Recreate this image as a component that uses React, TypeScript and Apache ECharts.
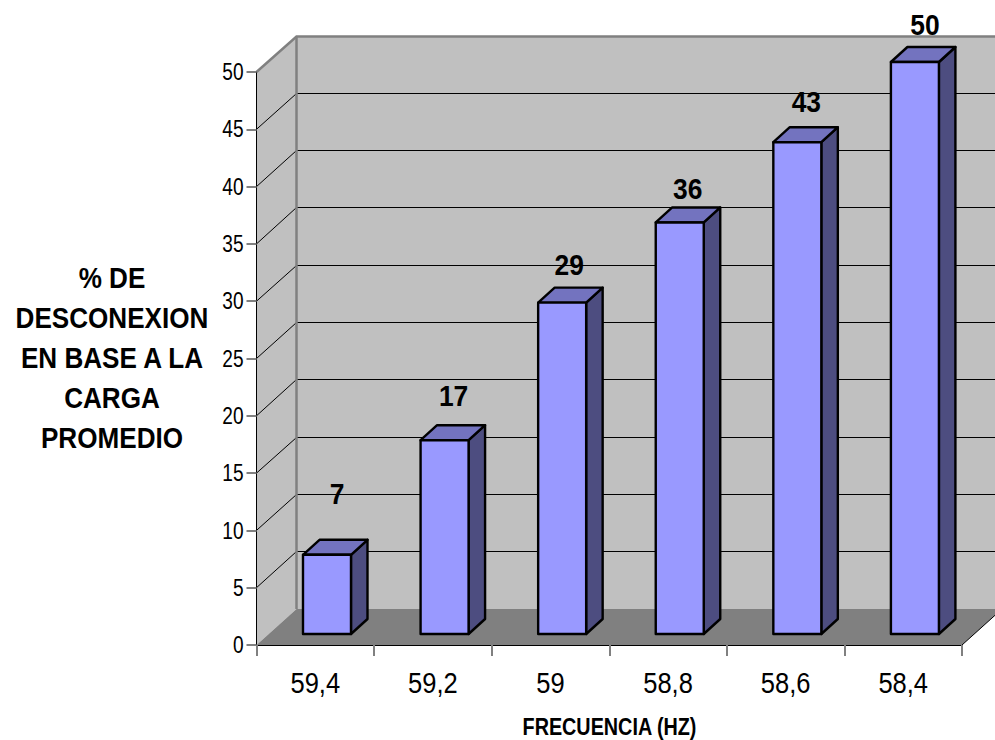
import React, { useEffect, useRef } from "react";
import * as echarts from "echarts";

const frequencies = ["59,4", "59,2", "59", "58,8", "58,6", "58,4"];
const disconnection = [7, 17, 29, 36, 43, 50];
const yTicks = [0, 5, 10, 15, 20, 25, 30, 35, 40, 45, 50];
const yTitleLines = ["% DE", "DESCONEXION", "EN BASE A LA", "CARGA", "PROMEDIO"];
const xTitle = "FRECUENCIA (HZ)";

const FONT = "'Liberation Sans', Arial, sans-serif";
const DEPTH_X = 40;
const DEPTH_Y = -36;
const labelLift = [61, 45, 38, 34, 41, 38];
const labelShift = [10, 9, 7, 8, 9, 10];

const crisp = (v: number) => Math.round(v - 0.5) + 0.5;

function scaledText(text: string, x: number, y: number, font: string, scaleX: number, align = "center") {
  return {
    type: "text",
    x,
    y,
    scaleX,
    style: { text, x: 0, y: 0, fill: "#000", font, align, verticalAlign: "middle" },
  };
}

function renderBackdrop(_: any, api: any) {
  const band = api.size([1, 0])[0];
  const [c0, y0] = api.coord([0, 0]);
  const [c5] = api.coord([frequencies.length - 1, 0]);
  const yTop = api.coord([0, 50])[1];
  const left = c0 - band / 2;
  const right = c5 + band / 2;
  const backLeft = left + DEPTH_X;
  const backRight = right + DEPTH_X;
  const children: any[] = [
    {
      type: "polygon",
      shape: { points: [[left, yTop], [backLeft, yTop + DEPTH_Y], [backLeft, y0 + DEPTH_Y], [left, y0]] },
      style: { fill: "#c0c0c0" },
    },
    {
      type: "rect",
      shape: { x: backLeft, y: yTop + DEPTH_Y, width: backRight - backLeft, height: y0 - yTop },
      style: { fill: "#c0c0c0" },
    },
    {
      type: "polygon",
      shape: { points: [[left, y0], [backLeft, y0 + DEPTH_Y], [backRight, y0 + DEPTH_Y], [right, y0]] },
      style: { fill: "#808080" },
    },
  ];
  yTicks.slice(1, -1).forEach((t) => {
    const y = api.coord([0, t])[1];
    const yb = crisp(y + DEPTH_Y);
    children.push({
      type: "polyline",
      shape: { points: [[left, y], [backLeft, yb], [backRight, yb]] },
      style: { stroke: "#000", lineWidth: 1, fill: "none" },
    });
  });
  children.push({
    type: "polyline",
    shape: { points: [[left, yTop], [backLeft, yTop + DEPTH_Y + 0.5], [backRight, yTop + DEPTH_Y + 0.5]] },
    style: { stroke: "#808080", lineWidth: 2.5, fill: "none" },
  });
  children.push({
    type: "line",
    shape: { x1: backLeft, y1: yTop + DEPTH_Y, x2: backLeft, y2: y0 + DEPTH_Y },
    style: { stroke: "#808080", lineWidth: 2.5 },
  });
  children.push({
    type: "line",
    shape: { x1: right, y1: y0, x2: backRight, y2: y0 + DEPTH_Y },
    style: { stroke: "#000", lineWidth: 1 },
  });
  return { type: "group", children };
}

function renderBar(_: any, api: any) {
  const idx = api.value(0);
  const val = api.value(1);
  const [cx, yT] = api.coord([idx, val]);
  const y0 = api.coord([idx, 0])[1];
  const ox = 11.7;
  const w = 48;
  const sx = 16.5;
  const sy = -15;
  const l = cx + ox - w / 2;
  const r = l + w;
  const t = yT - 10;
  const b = y0 - 11;
  const edge = { stroke: "#000", lineWidth: 2.4, lineJoin: "round" };
  return {
    type: "group",
    children: [
      {
        type: "polygon",
        shape: { points: [[r, t], [r + sx, t + sy], [r + sx, b + sy], [r, b]] },
        style: { fill: "#4d4d80", ...edge },
      },
      {
        type: "polygon",
        shape: { points: [[l, t], [l + sx, t + sy], [r + sx, t + sy], [r, t]] },
        style: { fill: "#7373bf", ...edge },
      },
      {
        type: "rect",
        shape: { x: l, y: t, width: w, height: b - t },
        style: { fill: "#9999ff", ...edge },
      },
      scaledText(String(val), cx + ox + labelShift[idx], t - labelLift[idx], `bold 30px ${FONT}`, 0.88),
    ],
  };
}

function renderTexts(_: any, api: any) {
  const children: any[] = [];
  yTicks.forEach((t) => {
    children.push(scaledText(String(t), 243.5, api.coord([0, t])[1], `23px ${FONT}`, 0.83, "right"));
  });
  frequencies.forEach((f, i) => {
    children.push(scaledText(f, api.coord([i, 0])[0], 683, `30px ${FONT}`, 0.85));
  });
  yTitleLines.forEach((line, i) => {
    children.push(scaledText(line, 112, 358.5 + (i - 2) * 40, `bold 29px ${FONT}`, 0.9));
  });
  children.push(scaledText(xTitle, 609.5, 727, `bold 23px ${FONT}`, 0.86));
  return { type: "group", children };
}

export default function App() {
  const ref = useRef<HTMLDivElement>(null);
  useEffect(() => {
    document.body.style.margin = "0";
    const chart = echarts.init(ref.current!, undefined, { renderer: "svg" });
    chart.setOption({
      animation: false,
      backgroundColor: "#fff",
      grid: { left: 256.5, top: 72, width: 705.5, height: 573, outerBoundsMode: "none" },
      xAxis: {
        type: "category",
        data: frequencies,
        z: 10,
        axisLine: { show: true, lineStyle: { color: "#000", width: 1 } },
        axisTick: { show: true, length: 11, alignWithLabel: false, lineStyle: { color: "#808080", width: 2 } },
        axisLabel: { show: false },
      },
      yAxis: {
        type: "value",
        min: 0,
        max: 50,
        interval: 5,
        z: 10,
        splitLine: { show: false },
        axisLine: { show: true, lineStyle: { color: "#000", width: 1 } },
        axisTick: { show: true, length: 10, lineStyle: { color: "#808080", width: 2 } },
        axisLabel: { show: false },
      },
      series: [
        {
          type: "custom",
          name: "backdrop",
          z: 1,
          silent: true,
          renderItem: renderBackdrop,
          data: [[0, 0]],
          encode: { x: 0, y: 1 },
        },
        {
          type: "custom",
          name: "% de desconexion",
          z: 3,
          renderItem: renderBar,
          data: disconnection.map((v, i) => [i, v]),
          encode: { x: 0, y: 1 },
        },
        {
          type: "custom",
          name: "texts",
          z: 5,
          silent: true,
          renderItem: renderTexts,
          data: [[0, 0]],
          encode: { x: 0, y: 1 },
        },
      ],
    });
    return () => chart.dispose();
  }, []);
  return <div ref={ref} style={{ width: 995, height: 740, position: "absolute", left: 0, top: 0 }} />;
}
